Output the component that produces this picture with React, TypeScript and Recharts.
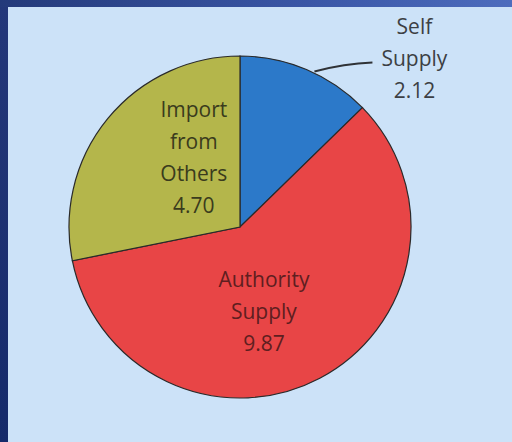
import { PieChart, Pie, Cell } from "recharts";

const categories = ["Self\nSupply", "Authority\nSupply", "Import\nfrom\nOthers"];
const values = [2.12, 9.87, 4.7];
const colors = ["#2c79c9", "#e84546", "#b4b64b"];
const textColors = ["#3c3f44", "#5e1e20", "#3a3b1d"];

const data = categories.map((name, i) => ({ name, value: values[i] }));

const RAD = Math.PI / 180;
const LINE_H = 32;
const FONT = 21;

// per-slice label placement: radius factor + small nudge
const labelPos = [
  { r: 0, dx: 0, dy: 0 },
  { r: 0.5, dx: -16, dy: 8 },
  { r: 0.5, dx: 20, dy: -16 },
];

function renderLabel(props: any) {
  const { cx, cy, midAngle, outerRadius, index, value, name } = props;
  const lines = [...String(name).split("\n"), value.toFixed(2)];
  const cos = Math.cos(-midAngle * RAD);
  const sin = Math.sin(-midAngle * RAD);
  if (index === 0) {
    // outside label with leader line
    const sx = cx + outerRadius * cos + 8;
    const sy = cy + outerRadius * sin + 2;
    const ex = sx + 58;
    const ey = sy - 9;
    const tx = ex + 42;
    const ty = ey - 36;
    return (
      <g>
        <path d={`M${sx},${sy} Q${sx + 30},${sy - 8} ${ex},${ey}`} stroke="#2f3236" strokeWidth={2} fill="none" />
        {lines.map((l, i) => (
          <text key={i} x={tx} y={ty + i * LINE_H} textAnchor="middle" dominantBaseline="central" fill={textColors[0]} fontSize={FONT} fontFamily="Open Sans">
            {l}
          </text>
        ))}
      </g>
    );
  }
  const p = labelPos[index];
  const x = cx + outerRadius * p.r * cos + p.dx;
  const y = cy + outerRadius * p.r * sin + p.dy;
  const y0 = y - ((lines.length - 1) * LINE_H) / 2;
  return (
    <g>
      {lines.map((l, i) => (
        <text key={i} x={x} y={y0 + i * LINE_H} textAnchor="middle" dominantBaseline="central" fill={textColors[index]} fontSize={FONT} fontFamily="Open Sans">
          {l}
        </text>
      ))}
    </g>
  );
}

export default function App() {
  return (
    <div
      style={{
        position: "fixed",
        left: 0,
        top: 0,
        width: 512,
        height: 442,
        overflow: "hidden",
        background: "linear-gradient(90deg, #243a7a 0%, #3a56a6 60%, #4d6cbd 100%)",
      }}
    >
      <div
        style={{
          position: "absolute",
          left: 0,
          top: 7,
          width: 8,
          height: 435,
          background: "linear-gradient(180deg, #24387a 0%, #152a6a 100%)",
        }}
      />
      <div
        style={{
          position: "absolute",
          left: 8,
          top: 7,
          width: 504,
          height: 435,
          background: "#cce2f8",
        }}
      />
      <div style={{ position: "absolute", left: 0, top: 0 }}>
        <PieChart width={512} height={442}>
          <Pie
            data={data}
            dataKey="value"
            nameKey="name"
            cx={235}
            cy={222}
            outerRadius={171}
            startAngle={90}
            endAngle={-270}
            stroke="#2a2a2a"
            strokeWidth={1.2}
            label={renderLabel}
            labelLine={false}
            isAnimationActive={false}
          >
            {data.map((d, i) => (
              <Cell key={d.name} fill={colors[i]} />
            ))}
          </Pie>
        </PieChart>
      </div>
    </div>
  );
}
